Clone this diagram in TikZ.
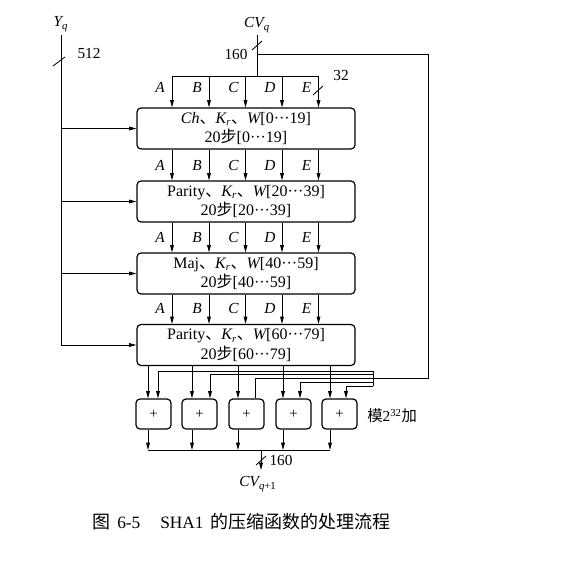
\documentclass[tikz,border=0pt]{standalone}
\usepackage{fontspec}
\setmainfont{Liberation Serif}
\newfontfamily\cjk{Noto Sans CJK SC}
\usetikzlibrary{arrows.meta}
\begin{document}
\begin{tikzpicture}[x=0.75pt,y=-0.75pt,
  ln/.style={line width=0.65pt},
  arr/.style={ln,-{Triangle[length=5.5pt,width=2.8pt]}},
  blk/.style={draw,line width=0.9pt,rounded corners=3pt,minimum width=163.5pt,minimum height=30.75pt,inner sep=0pt,align=center,font=\fontsize{12}{14.5}\selectfont},
  add/.style={draw,line width=0.9pt,rounded corners=3pt,minimum width=26.25pt,minimum height=22.5pt,inner sep=0pt,font=\fontsize{11}{12}\selectfont},
  lbl/.style={font=\fontsize{11.5}{12}\selectfont\itshape,inner sep=0pt},
  num/.style={font=\fontsize{11.5}{12}\selectfont,inner sep=0pt}]
\useasboundingbox (0,0) rectangle (574,560);

% ---- boxes
\node[blk] (b1) at (246,128.5) {{\itshape Ch}{\cjk 、}{\itshape K}\textsubscript{\itshape r}{\cjk 、}{\itshape W}[0···19]\\20{\cjk 步}[0···19]};
\node[blk] (b2) at (246,201.5) {Parity{\cjk 、}{\itshape K}\textsubscript{\itshape r}{\cjk 、}{\itshape W}[20···39]\\20{\cjk 步}[20···39]};
\node[blk] (b3) at (246,273.5) {Maj{\cjk 、}{\itshape K}\textsubscript{\itshape r}{\cjk 、}{\itshape W}[40···59]\\20{\cjk 步}[40···59]};
\node[blk] (b4) at (246,345) {Parity{\cjk 、}{\itshape K}\textsubscript{\itshape r}{\cjk 、}{\itshape W}[60···79]\\20{\cjk 步}[60···79]};

% ---- adders
\node[add] (p1) at (153.5,414) {+};
\node[add] (p2) at (199.5,414) {+};
\node[add] (p3) at (246.5,414) {+};
\node[add] (p4) at (293.5,414) {+};
\node[add] (p5) at (339.5,414) {+};
\node[num,anchor=west] (mod) at (367,416) {{\cjk 模}2\textsuperscript{32}{\cjk 加}};

% ---- top labels
\node[lbl] (Yq) at (61,24) {Y\textsubscript{\itshape q}};
\node[lbl] (CVq) at (257,25) {CV\textsubscript{\itshape q}};
\node[num] (n512) at (89,53) {512};
\node[num] (n160a) at (236,54) {160};
\node[num] (n32) at (341,75) {32};

% ---- Y_q line and branches
\coordinate (yl) at (61,0);
\coordinate (ylEnd) at (61,345);
\draw[ln] (Yq.south) ++(0,3) -- (ylEnd);
\draw[ln] (53,66) -- (65,57);
\foreach \b in {b1,b2,b3,b4} \draw[arr] (yl |- \b.west) -- (\b.west);

% ---- CV_q line, top bus
\coordinate (cvbr) at (257,54);
\coordinate (cvbus) at (257,76);
\draw[ln] (CVq.south) ++(0,2) -- (cvbus);
\draw[ln] (252,50) -- (262,41);
\coordinate (busTL) at (172,76);
\coordinate (busTR) at (318.5,76);
\draw[ln] (busTL) -- (busTR);

\coordinate (cA) at (172,0);
\coordinate (cB) at (209,0);
\coordinate (cC) at (245.5,0);
\coordinate (cD) at (282,0);
\coordinate (cE) at (318.5,0);
\foreach \c in {cA,cB,cC,cD,cE} {
  \draw[arr] (\c |- busTL) -- (\c |- b1.north);
  \draw[arr] (b1.south -| \c) -- (b2.north -| \c);
  \draw[arr] (b2.south -| \c) -- (b3.north -| \c);
  \draw[arr] (b3.south -| \c) -- (b4.north -| \c);
}
\draw[ln] (313,95) -- (323,86);
\foreach \x/\l in {172/A,209/B,245.5/C,282/D,318.5/E} {
  \node[lbl,anchor=base] (t\l) at (\x-12,92) {\l};
  \node[lbl,anchor=base] (u\l) at (\x-12,170) {\l};
  \node[lbl,anchor=base] (v\l) at (\x-12,242) {\l};
  \node[lbl,anchor=base] (w\l) at (\x-12,313.5) {\l};
}

% ---- feedback of CV_q
\coordinate (fbR) at (428,54);
\coordinate (fbB) at (428,378);
\coordinate (fbJ) at (373,378);
\draw[ln] (cvbr) -- (fbR) -- (fbB) -- (fbJ);
\coordinate (h1) at (373,371);
\coordinate (h2) at (373,374.5);
\coordinate (h3) at (373,378);
\coordinate (h4) at (373,382);
\coordinate (h5) at (373,386);
\draw[ln] (h1) -- (h5);
\coordinate (f1) at (158,0);
\coordinate (f2) at (210,0);
\coordinate (f3) at (255,0);
\coordinate (f4) at (300,0);
\coordinate (f5) at (346,0);
\draw[arr] (h1) -| (f1 |- p1.north);
\draw[arr] (h2) -| (f2 |- p2.north);
\draw[ln]  (h3) -| (f3 |- p3.north);
\draw[arr] (h4) -| (f4 |- p4.north);
\draw[arr] (h5) -| (f5 |- p5.north);

% ---- outputs of last block, adders, bottom bus
\coordinate (busBL) at (148,450);
\coordinate (busBR) at (330,450);
\draw[ln] (busBL) -- (busBR);
\foreach \i/\x in {1/148,2/192,3/238,4/283,5/330} {
  \coordinate (o\i) at (\x,0);
  \draw[arr] (b4.south -| o\i) -- (p\i.north -| o\i);
  \draw[arr] (p\i.south -| o\i) -- (o\i |- busBL);
}
\coordinate (outT) at (261,450);
\coordinate (outE) at (261,470);
\draw[arr] (outT) -- (outE);
\draw[ln] (256,465) -- (266,456);
\node[num] (n160b) at (281,460) {160};
\node[lbl] (CVq1) at (258,484) {CV\textsubscript{\itshape q\upshape +1}};

% ---- caption
\node[anchor=west,inner sep=0pt,font=\fontsize{13.5}{14}\selectfont] (cap) at (92,522) {\makebox[18.75pt][l]{\cjk 图}\makebox[32.25pt][l]{\fontsize{13}{13}\selectfont 6-5}\makebox[37.5pt][l]{\fontsize{13}{13}\selectfont SHA1}{\cjk 的压缩函数的处理流程}};
\end{tikzpicture}
\end{document}
